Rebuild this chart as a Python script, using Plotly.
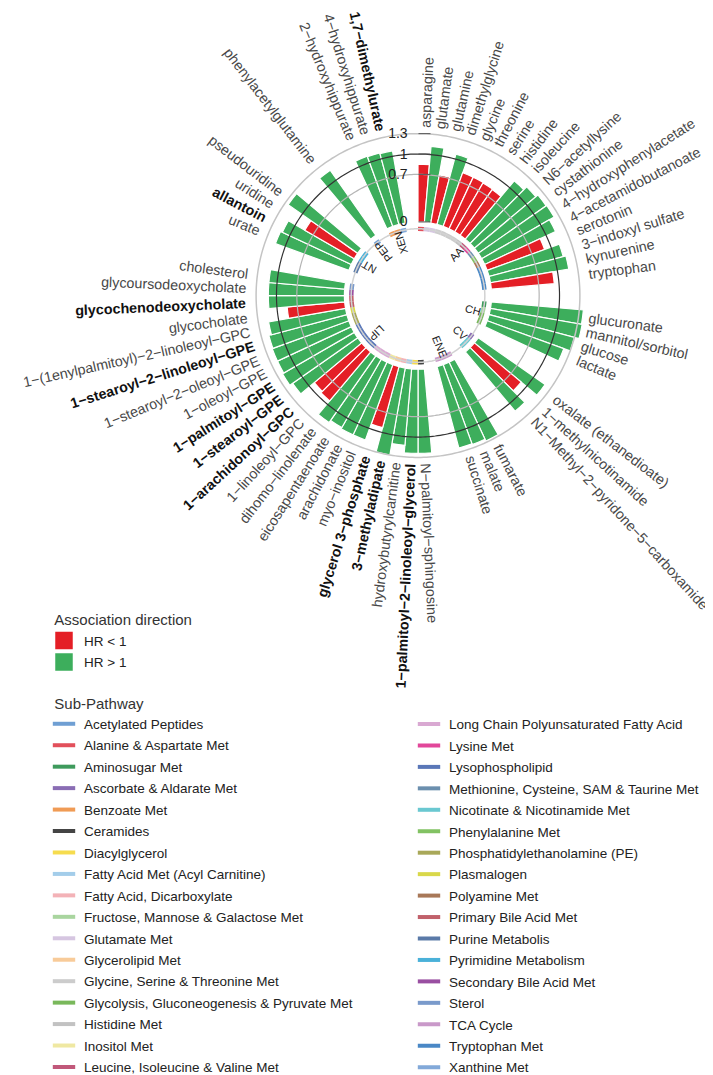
import numpy as np
import plotly.graph_objects as go

W, H = 713, 1075
FONT = "Liberation Sans, Arial, sans-serif"

# ---- data -------------------------------------------------------------
group_names = ["AA", "CH", "CV", "ENE", "LIP", "NT", "PEP", "XEN"]
group_sizes = [17, 4, 3, 3, 21, 4, 1, 3]

metabolites = [
    "asparagine", "glutamate", "glutamine", "dimethylglycine", "glycine", "threonine",
    "serine", "histidine", "isoleucine", "N6−acetyllysine", "cystathionine",
    "4−hydroxyphenylacetate", "4−acetamidobutanoate", "serotonin", "3−indoxyl sulfate",
    "kynurenine", "tryptophan",
    "glucuronate", "mannitol/sorbitol", "glucose", "lactate",
    "oxalate (ethanedioate)", "1−methylnicotinamide", "N1−Methyl−2−pyridone−5−carboxamide",
    "fumarate", "malate", "succinate",
    "N−palmitoyl−sphingosine", "1−palmitoyl−2−linoleoyl−glycerol", "hydroxybutyrylcarnitine",
    "3−methyladipate", "glycerol 3−phosphate", "myo−inositol", "arachidonate",
    "eicosapentaenoate", "dihomo−linolenate", "1−linoleoyl−GPC", "1−arachidonoyl−GPC",
    "1−stearoyl−GPE", "1−palmitoyl−GPE", "1−oleoyl−GPE", "1−stearoyl−2−oleoyl−GPE",
    "1−stearoyl−2−linoleoyl−GPE", "1−(1enylpalmitoyl)−2−linoleoyl−GPC", "glycocholate",
    "glycochenodeoxycholate", "glycoursodeoxycholate", "cholesterol",
    "urate", "allantoin", "uridine", "pseudouridine",
    "phenylacetylglutamine",
    "2−hydroxyhippurate", "4−hydroxyhippurate", "1,7−dimethylurate",
]

bar_value = [
    0.85, 1.12, 0.72, 1.07, 0.84, 0.84, 0.83, 0.82, 1.12, 1.18, 1.22, 1.23, 1.15, 0.90, 1.13, 1.17, 0.93,
    1.36, 1.37, 1.30, 1.20,
    1.20, 0.90, 1.14,
    1.28, 1.25, 1.24,
    1.24, 1.24, 1.13, 1.30, 0.93, 1.18, 1.18, 1.16, 1.20, 0.94, 0.91, 1.17, 1.22, 1.20, 1.20,
    1.19, 1.15, 0.85, 1.12, 1.12, 1.12,
    1.15, 1.12, 0.84, 1.25,
    1.17,
    1.10, 1.09, 1.08,
]

direction = list("LGLGLLLLGGGGGLGGL" "GGGG" "GLG" "GGG" "GGGGLGGGGLLGGGGGGLGGG" "GGLG" "G" "GGG")

bold = {"1,7−dimethylurate", "allantoin", "glycochenodeoxycholate", "1−stearoyl−2−linoleoyl−GPE",
        "1−palmitoyl−GPE", "1−stearoyl−GPE", "1−arachidonoyl−GPC", "glycerol 3−phosphate",
        "3−methyladipate", "1−palmitoyl−2−linoleoyl−glycerol"}

subpath_names = [
    "Acetylated Peptides", "Alanine & Aspartate Met", "Aminosugar Met", "Ascorbate & Aldarate Met",
    "Benzoate Met", "Ceramides", "Diacylglycerol", "Fatty Acid Met (Acyl Carnitine)",
    "Fatty Acid, Dicarboxylate", "Fructose, Mannose & Galactose Met", "Glutamate Met",
    "Glycerolipid Met", "Glycine, Serine & Threonine Met", "Glycolysis, Gluconeogenesis & Pyruvate Met",
    "Histidine Met", "Inositol Met", "Leucine, Isoleucine & Valine Met",
    "Long Chain Polyunsaturated Fatty Acid", "Lysine Met", "Lysophospholipid",
    "Methionine, Cysteine, SAM & Taurine Met", "Nicotinate & Nicotinamide Met", "Phenylalanine Met",
    "Phosphatidylethanolamine (PE)", "Plasmalogen", "Polyamine Met", "Primary Bile Acid Met",
    "Purine Metabolis", "Pyrimidine Metabolism", "Secondary Bile Acid Met", "Sterol", "TCA Cycle",
    "Tryptophan Met", "Xanthine Met",
]
subpath_colors = [
    "#6f9fd3", "#e2505b", "#3e9a5c", "#8a6db4", "#f09b55", "#444444", "#f6dc4e", "#a3cdea",
    "#f3b2b7", "#a9d59f", "#d6c6e1", "#f8cb99", "#cccccc", "#79b85b", "#c2c2c2", "#efe8a2",
    "#c1587a", "#d9a9d2", "#e2479a", "#5a77b8", "#6b8fae", "#6ac8d1", "#82c263", "#a9a859",
    "#d9d84a", "#a87858", "#c1616b", "#5a7aa8", "#4ab1d9", "#994fa1", "#7a9acb", "#c999c9",
    "#4a88c6", "#82a9d9",
]

metab_subpath = (
    ["Alanine & Aspartate Met", "Glutamate Met", "Glutamate Met"]
    + ["Glycine, Serine & Threonine Met"] * 4
    + ["Histidine Met", "Leucine, Isoleucine & Valine Met", "Lysine Met",
       "Methionine, Cysteine, SAM & Taurine Met", "Phenylalanine Met", "Polyamine Met"]
    + ["Tryptophan Met"] * 4
    + ["Aminosugar Met", "Fructose, Mannose & Galactose Met",
       "Glycolysis, Gluconeogenesis & Pyruvate Met", "Glycolysis, Gluconeogenesis & Pyruvate Met"]
    + ["Ascorbate & Aldarate Met", "Nicotinate & Nicotinamide Met", "Nicotinate & Nicotinamide Met"]
    + ["TCA Cycle"] * 3
    + ["Ceramides", "Diacylglycerol", "Fatty Acid Met (Acyl Carnitine)", "Fatty Acid, Dicarboxylate",
       "Glycerolipid Met", "Inositol Met"]
    + ["Long Chain Polyunsaturated Fatty Acid"] * 3
    + ["Lysophospholipid"] * 5
    + ["Phosphatidylethanolamine (PE)"] * 2
    + ["Plasmalogen", "Primary Bile Acid Met", "Primary Bile Acid Met", "Secondary Bile Acid Met", "Sterol"]
    + ["Purine Metabolis", "Purine Metabolis", "Pyrimidine Metabolism", "Pyrimidine Metabolism"]
    + ["Acetylated Peptides"]
    + ["Benzoate Met", "Benzoate Met", "Xanthine Met"]
)

RED, GREEN = "#e41f26", "#3dae5c"

# ---- geometry -----------------------------------------------------------
GAP = 2                          # empty slots after each group
slot, group_mid = [], []
s = 0
for size in group_sizes:
    slot.extend(range(s, s + size))
    group_mid.append(s + (size - 1) / 2)
    s += size + GAP
STEP = 360 / s
theta = [(k + 0.5) * STEP for k in slot]
group_theta = [(k + 0.5) * STEP for k in group_mid]

R_MIN, R_MAX = -1.084, 1.45
PX_PER_UNIT = 69.2
CX, CY = 410, 293
R_PX = (R_MAX - R_MIN) * PX_PER_UNIT


def paper_xy(th, rv):
    phi = np.radians(90 - th)
    rp = (rv - R_MIN) * PX_PER_UNIT
    return (CX + rp * np.cos(phi)) / W, 1 - (CY - rp * np.sin(phi)) / H


fig = go.Figure()

# reference circles
circ = np.linspace(0, 360, 361)
for rv, col, lw in [(-0.1, "#d2d2d2", 1.5), (0.7, "#b5b5b5", 1.2), (1.0, "#333333", 1.2), (1.3, "#c4c4c4", 1.5)]:
    fig.add_trace(go.Scatterpolar(r=[rv] * len(circ), theta=circ, mode="lines",
                                  line=dict(color=col, width=lw), hoverinfo="skip", showlegend=False))

# bars
colors = [RED if d == "L" else GREEN for d in direction]
fig.add_trace(go.Barpolar(r=bar_value, theta=theta, base=0, width=STEP,
                          marker=dict(color=colors, line=dict(color="white", width=1.2)),
                          hovertext=metabolites, showlegend=False))

# sub-pathway ring
sp_col = dict(zip(subpath_names, subpath_colors))
fig.add_trace(go.Barpolar(r=[0.065] * len(metabolites), theta=theta, base=-0.135, width=STEP,
                          marker=dict(color=[sp_col[p] for p in metab_subpath], line=dict(width=0)),
                          hovertext=metab_subpath, showlegend=False))

# legend entries
for name, col in [("HR < 1", RED), ("HR > 1", GREEN)]:
    fig.add_trace(go.Scatterpolar(r=[None], theta=[None], mode="markers", name=name,
                                  marker=dict(symbol="square", size=16, color=col,
                                              line=dict(color=col, width=1.5)),
                                  legend="legend", legendgroup=name))
for i, (name, col) in enumerate(zip(subpath_names, subpath_colors)):
    fig.add_trace(go.Scatterpolar(r=[None], theta=[None], mode="markers", name=name,
                                  marker=dict(symbol="line-ew", size=16, line=dict(color=col, width=4)),
                                  legend="legend2" if i < 17 else "legend3", legendgroup=name))

# metabolite labels (transparent twin keeps the visible text starting at the label radius)
LABEL_R = 1.40
annotations = []
for name, th in zip(metabolites, theta):
    vis = f"<b>{name}</b>" if name in bold else name
    ghost = f'<span style="color:rgba(0,0,0,0)">{vis}</span>'
    if th < 180:
        txt, ang = ghost + vis, th - 90
    else:
        txt, ang = vis + ghost, th - 270
    x, y = paper_xy(th, LABEL_R)
    annotations.append(dict(x=x, y=y, xref="paper", yref="paper", text=txt, textangle=ang,
                            showarrow=False, xanchor="center", yanchor="middle",
                            font=dict(family=FONT, size=14.3,
                                      color="#111" if name in bold else "#484848")))

for g, th in zip(group_names, group_theta):
    x, y = paper_xy(th, -0.26)
    annotations.append(dict(x=x, y=y, xref="paper", yref="paper", text=g, textangle=th - 90,
                            showarrow=False, xanchor="center", yanchor="middle",
                            font=dict(family=FONT, size=11, color="#222")))

tick_vals = [0, 0.7, 1, 1.3]
tick_text = [f"{t:g}&nbsp;&nbsp;" for t in tick_vals]

fig.update_layout(
    width=W, height=H, margin=dict(l=0, r=0, t=0, b=0),
    paper_bgcolor="white", font=dict(family=FONT, color="#333"),
    polar=dict(
        domain=dict(x=[(CX - R_PX) / W, (CX + R_PX) / W], y=[1 - (CY + R_PX) / H, 1 - (CY - R_PX) / H]),
        bgcolor="rgba(0,0,0,0)", hole=0, bargap=0,
        radialaxis=dict(range=[R_MIN, R_MAX], tickvals=tick_vals, ticktext=tick_text,
                        angle=90, side="counterclockwise", showgrid=False, showline=False,
                        ticks="inside", ticklen=12, tickcolor="#555", tickangle=90,
                        tickfont=dict(family=FONT, size=14, color="#222")),
        angularaxis=dict(rotation=90, direction="clockwise", showgrid=False, showline=False,
                         showticklabels=False, ticks=""),
    ),
    legend=dict(x=36 / W, y=1 - 609 / H, xanchor="left", yanchor="top", tracegroupgap=0.9,
                title=dict(text="&nbsp;&nbsp;Association direction", font=dict(size=15, color="#333")),
                font=dict(size=13.5, color="#222"), itemsizing="trace"),
    legend2=dict(x=36 / W, y=1 - 694 / H, xanchor="left", yanchor="top", tracegroupgap=0.9,
                 title=dict(text="&nbsp;&nbsp;Sub-Pathway", font=dict(size=15, color="#333")),
                 font=dict(size=13.5, color="#222"), itemsizing="trace"),
    legend3=dict(x=401 / W, y=1 - 714 / H, xanchor="left", yanchor="top", tracegroupgap=0.9,
                 font=dict(size=13.5, color="#222"), itemsizing="trace"),
    annotations=annotations,
)

fig.write_html("out.html")
